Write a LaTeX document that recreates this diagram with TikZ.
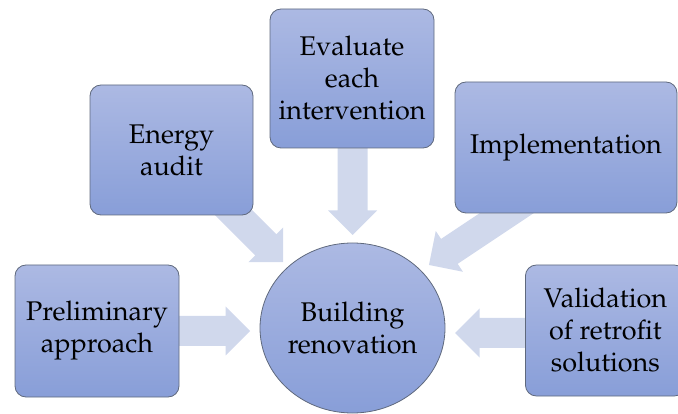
\documentclass[tikz,border=0pt]{standalone}
\usepackage[T1]{fontenc}
\usepackage{mathpazo}
\definecolor{arrowc}{RGB}{208,216,236}
\definecolor{boxtop}{RGB}{172,185,227}
\definecolor{boxbot}{RGB}{136,158,216}
\definecolor{boxline}{RGB}{95,105,125}
\newcommand\blkarrow[4]{\fill[arrowc, shift={(#1,#2)}, rotate=#3] (0pt,-15pt) -- (#4pt-24.5pt,-15pt) -- (#4pt-24.5pt,-24.5pt) -- (#4pt,0pt) -- (#4pt-24.5pt,24.5pt) -- (#4pt-24.5pt,15pt) -- (0pt,15pt) -- cycle;}
\tikzset{
  stepbox/.style={draw=boxline, line width=0.8pt, rounded corners=11pt, top color=boxtop, bottom color=boxbot, align=center, font=\fontsize{27}{32}\selectfont, inner sep=0pt},
  hub/.style={draw=boxline, line width=0.8pt, ellipse, top color=boxtop, bottom color=boxbot, align=center, font=\fontsize{27}{32}\selectfont, inner sep=0pt}
}
\usetikzlibrary{shapes.geometric}
\begin{document}
\begin{tikzpicture}[x=1pt,y=-1pt]
\useasboundingbox (0,0) rectangle (678,414);
% block arrows (behind boxes)
\blkarrow{178}{331}{0}{72}
\blkarrow{223}{202}{-45}{85}
\blkarrow{352.5}{148}{-90}{87}
\blkarrow{528.8}{198.4}{-146.3}{120}
\blkarrow{527}{333}{180}{72}
% boxes
\node[stepbox, minimum width=164pt, minimum height=132pt] (prelim) at (97,331) {Preliminary\\approach};
\node[stepbox, minimum width=163pt, minimum height=130pt] (energy) at (171.5,150) {Energy\\audit};
\node[stepbox, minimum width=164pt, minimum height=139pt] (eval) at (352,78.5) {Evaluate\\each\\intervention};
\node[stepbox, minimum width=222pt, minimum height=131pt] (impl) at (566,147.5) {Implementation};
\node[stepbox, minimum width=160pt, minimum height=131pt, anchor=west] (valid) at (525,330.5) {Validation\\of retrofit\\solutions};
\node[hub, minimum width=185pt, minimum height=170pt] (hubnode) at (352.5,328) {Building\\renovation};
\end{tikzpicture}
\end{document}
